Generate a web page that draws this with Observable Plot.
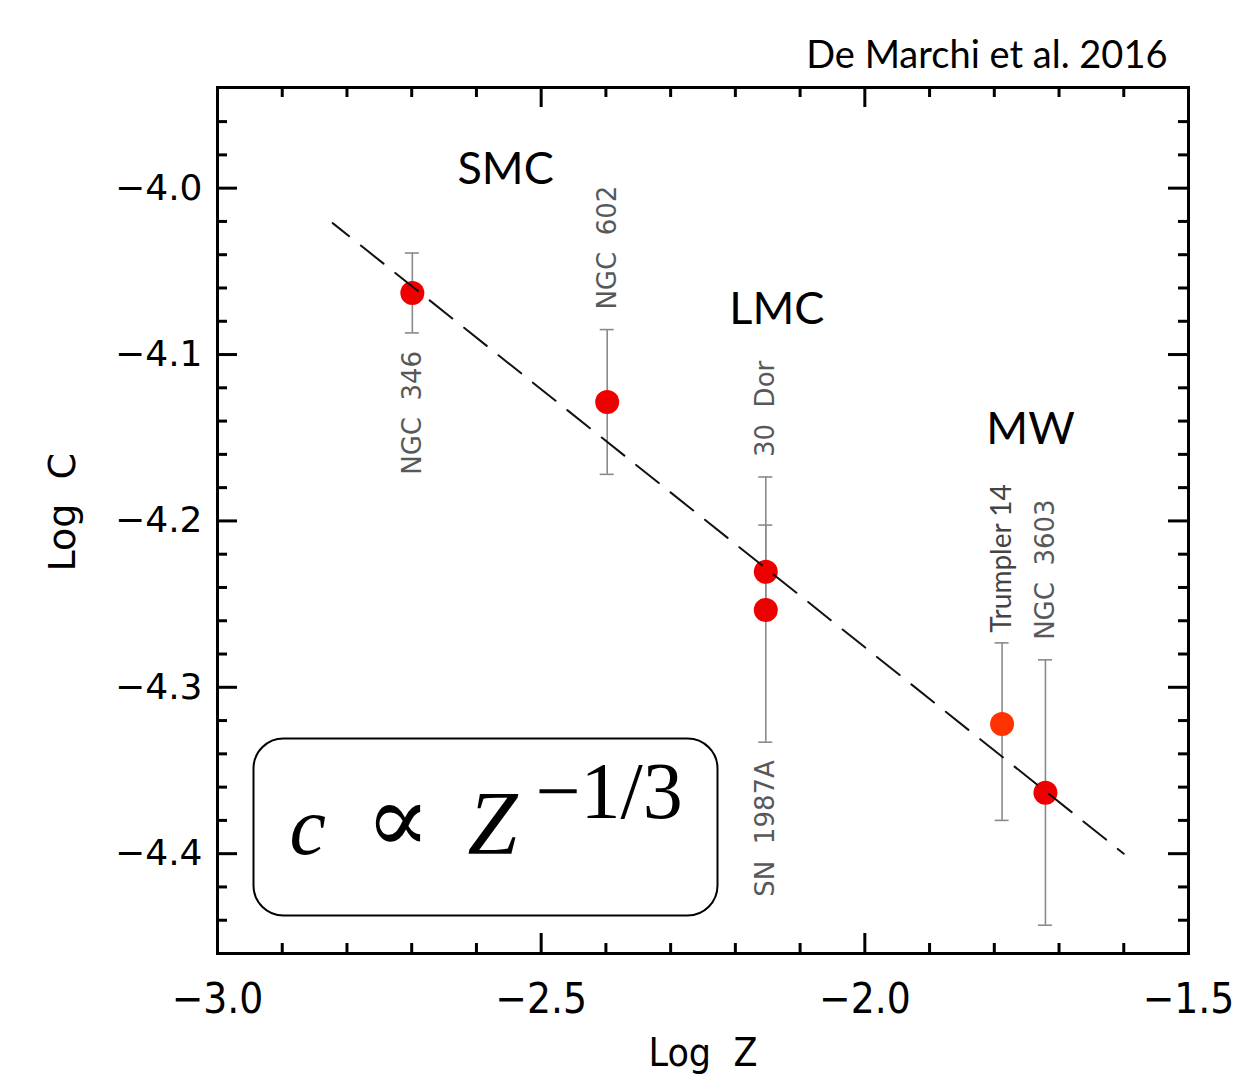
<!DOCTYPE html>
<html>
<head>
<meta charset="utf-8">
<script src="https://cdn.jsdelivr.net/npm/d3@7"></script>
<script src="https://cdn.jsdelivr.net/npm/@observablehq/plot@0.6"></script>
<style>
  html, body { margin: 0; padding: 0; background: #fff; }
  #chart { width: 1233px; height: 1076px; overflow: hidden; }
</style>
</head>
<body>
<div id="chart"></div>
<script>
// ---- data ----
const clusterNames = ["NGC  346", "NGC  602", "30  Dor", "SN  1987A", "Trumpler 14", "NGC  3603"];
const logZ      = [-2.699, -2.398, -2.153, -2.153, -1.788, -1.721];
const logC      = [-4.063, -4.1285, -4.2306, -4.2535, -4.322, -4.3634];
const logCLow   = [-4.087, -4.172, -4.259, -4.333, -4.380, -4.443];
const logCHigh  = [-4.039, -4.085, -4.2025, -4.1736, -4.2733, -4.2835];
const labelSide = ["below", "above", "above", "below", "above", "above"];

const regionNames = ["SMC", "LMC", "MW"];
const regionZ     = [-2.555, -2.136, -1.744];
const regionC     = [-3.9976, -4.0817, -4.1538];

const fitZ = [-2.822, -1.600];
const fitC = [-4.021, -4.400];

const xMajorTicks = [-3.0, -2.5, -2.0, -1.5];
const xMinorTicks = [-2.9, -2.8, -2.7, -2.6, -2.4, -2.3, -2.2, -2.1, -1.9, -1.8, -1.7, -1.6];
const yMajorTicks = [-4.4, -4.3, -4.2, -4.1, -4.0];
const yMinorTicks = [-4.44, -4.42, -4.38, -4.36, -4.34, -4.32, -4.28, -4.26, -4.24, -4.22,
                     -4.18, -4.16, -4.14, -4.12, -4.08, -4.06, -4.04, -4.02, -3.98, -3.96];

const sourceText = "De Marchi et al. 2016";
const xLabel = "Log  Z";
const yLabel = "Log  C";

// ---- tables ----
const points = clusterNames.map((name, i) => ({
  name, z: logZ[i], c: logC[i], lo: logCLow[i], hi: logCHigh[i], side: labelSide[i]
}));
// labels sit beyond the outermost error bar drawn at the same Log Z
points.forEach(p => {
  const same = points.filter(q => q.z === p.z);
  p.top = d3.max(same, q => q.hi);
  p.bottom = d3.min(same, q => q.lo);
});
const regions = regionNames.map((name, i) => ({name, z: regionZ[i], c: regionC[i]}));
const fit = fitZ.map((z, i) => ({z, c: fitC[i]}));

// ---- layout ----
const W = 1233, H = 1076;
const mT = 87, mR = 45, mB = 123, mL = 217;
const plotW = W - mL - mR, plotH = H - mT - mB;
const majorLen = 20, minorLen = 10;
const fmt = d3.format(".1f");
const gap = 20;

const chart = Plot.plot({
  width: W, height: H,
  marginTop: mT, marginRight: mR, marginBottom: mB, marginLeft: mL,
  x: {domain: [-3.0, -1.5]},
  y: {domain: [-4.46, -3.9395]},
  style: {fontFamily: "DejaVu Sans", background: "#fff", overflow: "visible"},
  marks: [
    // formula box
    Plot.frame({stroke: "#000", strokeWidth: 2, rx: 30,
      insetLeft: 36, insetRight: plotW - 500, insetTop: 651, insetBottom: 38}),
    // error bars
    Plot.ruleX(points, {x: "z", y1: "lo", y2: "hi", stroke: "#8a8a8a", strokeWidth: 1.6}),
    Plot.ruleY(points, {y: "lo", x1: "z", x2: "z", insetLeft: -7, insetRight: -7, stroke: "#8a8a8a", strokeWidth: 1.6}),
    Plot.ruleY(points, {y: "hi", x1: "z", x2: "z", insetLeft: -7, insetRight: -7, stroke: "#8a8a8a", strokeWidth: 1.6}),
    // points
    Plot.dot(points, {x: "z", y: "c", r: 12, fill: d => d.name === "Trumpler 14" ? "#ff3300" : "#ee0000", stroke: "none"}),
    // fit line
    Plot.line(fit, {x: "z", y: "c", stroke: "#111", strokeWidth: 2, strokeDasharray: "29,15", strokeDashoffset: 8}),
    // cluster labels
    Plot.text(points.filter(d => d.side === "above" && d.name !== "Trumpler 14"),
      {x: "z", y: "top", text: "name", rotate: -90, textAnchor: "start", dy: -gap,
       fontSize: 26, fill: "#585858", fontFamily: "DejaVu Sans"}),
    Plot.text(points.filter(d => d.name === "Trumpler 14"),
      {x: "z", y: "top", text: "name", rotate: -90, textAnchor: "start", dy: -10,
       fontSize: 28, fill: "#444", fontFamily: "Lato"}),
    Plot.text(points.filter(d => d.side === "below"),
      {x: "z", y: "bottom", text: "name", rotate: -90, textAnchor: "end", dy: gap - 2,
       fontSize: 26, fill: "#585858", fontFamily: "DejaVu Sans"}),
    // region labels
    Plot.text(regions, {x: "z", y: "c", text: "name", lineAnchor: "bottom",
      fontSize: 45, fill: "#000", fontFamily: "Lato"}),
    // formula
    Plot.text(["c"], {text: d => d, frameAnchor: "bottom-left", dx: 72, dy: -100, textAnchor: "start",
      lineAnchor: "bottom", fontSize: 82, fontStyle: "italic", fontFamily: "Liberation Serif, DejaVu Serif", fill: "#000"}),
    Plot.text(["\u221D"], {text: d => d, frameAnchor: "bottom-left", dx: 148, dy: -102, textAnchor: "start",
      lineAnchor: "bottom", fontSize: 96, fontWeight: 300, fontFamily: "Liberation Serif, DejaVu Serif", fill: "#000"}),
    Plot.text(["Z"], {text: d => d, frameAnchor: "bottom-left", dx: 250, dy: -100, textAnchor: "start",
      lineAnchor: "bottom", fontSize: 90, fontStyle: "italic", fontFamily: "Liberation Serif, DejaVu Serif", fill: "#000"}),
    Plot.text(["\u22121/3"], {text: d => d, frameAnchor: "bottom-left", dx: 318, dy: -136, textAnchor: "start",
      lineAnchor: "bottom", fontSize: 80, fontFamily: "Liberation Serif, DejaVu Serif", fill: "#000"}),
    // ticks (inward, all four sides)
    Plot.tickX(xMajorTicks, {x: d => d, insetTop: plotH - majorLen, stroke: "#000", strokeWidth: 3}),
    Plot.tickX(xMinorTicks, {x: d => d, insetTop: plotH - minorLen, stroke: "#000", strokeWidth: 3}),
    Plot.tickX(xMajorTicks, {x: d => d, insetBottom: plotH - majorLen, stroke: "#000", strokeWidth: 3}),
    Plot.tickX(xMinorTicks, {x: d => d, insetBottom: plotH - minorLen, stroke: "#000", strokeWidth: 3}),
    Plot.tickY(yMajorTicks, {y: d => d, insetRight: plotW - majorLen, stroke: "#000", strokeWidth: 3}),
    Plot.tickY(yMinorTicks, {y: d => d, insetRight: plotW - minorLen, stroke: "#000", strokeWidth: 3}),
    Plot.tickY(yMajorTicks, {y: d => d, insetLeft: plotW - majorLen, stroke: "#000", strokeWidth: 3}),
    Plot.tickY(yMinorTicks, {y: d => d, insetLeft: plotW - minorLen, stroke: "#000", strokeWidth: 3}),
    // frame
    Plot.frame({stroke: "#000", strokeWidth: 3}),
    // axes labels
    Plot.axisX(xMajorTicks, {anchor: "bottom", tickSize: 0, tickPadding: 30, tickFormat: fmt,
      fontSize: 42, fontFamily: "DejaVu Sans Condensed, DejaVu Sans", label: null, fill: "#000"}),
    Plot.axisY(yMajorTicks, {anchor: "left", tickSize: 0, tickPadding: 15, tickFormat: fmt,
      fontSize: 36, fontFamily: "DejaVu Sans", label: null, fill: "#000"}),
    Plot.text([yLabel], {text: d => d, frameAnchor: "left", rotate: -90, dx: -155, dy: 51,
      fontSize: 38, fontFamily: "DejaVu Sans", fill: "#000"}),
    Plot.text([xLabel], {text: d => d, frameAnchor: "bottom", dy: 112, lineAnchor: "bottom",
      fontSize: 39, fontFamily: "DejaVu Sans Condensed, DejaVu Sans", fill: "#000"}),
    Plot.text([sourceText], {text: d => d, frameAnchor: "top-right", dx: -21, dy: -20,
      textAnchor: "end", lineAnchor: "bottom", fontSize: 38, fontFamily: "Lato", fill: "#000"})
  ]
});
document.getElementById("chart").appendChild(chart);
</script>
</body>
</html>
